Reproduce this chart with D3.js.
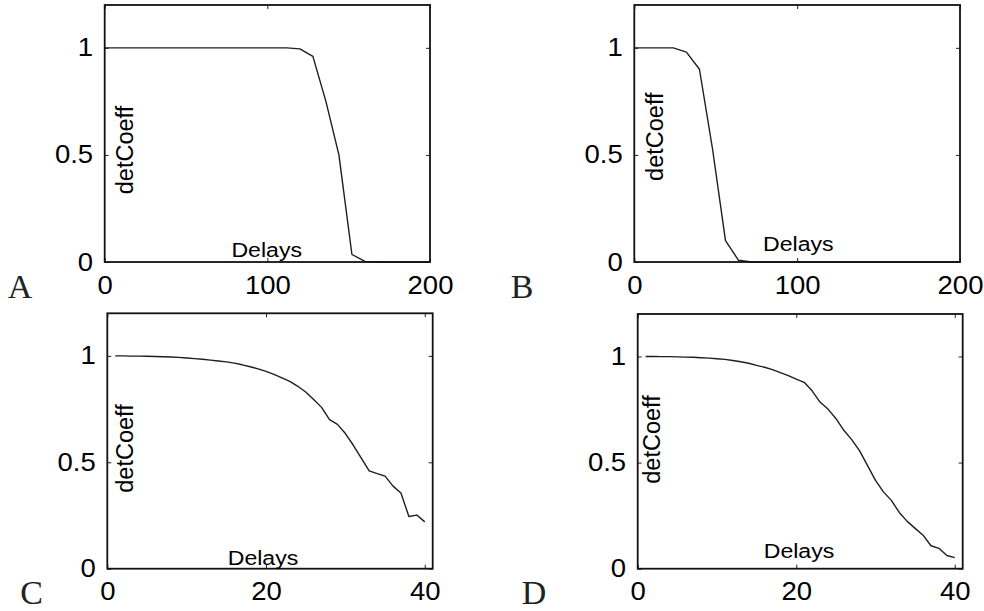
<!DOCTYPE html>
<html><head><meta charset="utf-8">
<script src="https://cdn.jsdelivr.net/npm/d3@7/dist/d3.min.js"></script>
<style>
html,body{margin:0;padding:0;background:#fff;}
svg{display:block;}
</style></head>
<body>
<svg id="chart" width="984" height="611"></svg>
<script>
// ---------- data ----------
const panelLetters = ["A", "B", "C", "D"];
const yTicks = [0, 0.5, 1];
const xTicksAB = [0, 100, 200];
const xTicksCD = [0, 20, 40];
const xLabel = "Delays";
const yLabel = "detCoeff";

const delaysA = [0,8,16,24,32,40,48,56,64,72,80,88,96,104,112,120,128,136,144,152,160,168,176,184,192,200];
const coeffA  = [1,1,1,1,1,1,1,1,1,1,1,1,1,1,1,0.995,0.96,0.75,0.50,0.035,0.003,0,0,0,0,0];

const delaysB = [0,8,16,24,32,40,48,56,64,72,80,88,96,104,112,120,128,136,144,152,160,168,176,184,192,200];
const coeffB  = [1,1,1,1,0.98,0.9,0.53,0.1,0.008,0,0,0,0,0,0,0,0,0,0,0,0,0,0,0,0,0];

const delaysC = [1,2,3,4,5,6,7,8,9,10,11,12,13,14,15,16,17,18,19,20,21,22,23,24,25,26,27,28,29,30,31,32,33,34,35,36,37,38,39,40];
const coeffC  = [1.000,1.000,0.999,0.999,0.998,0.997,0.996,0.995,0.993,0.990,0.987,0.984,0.980,0.976,0.972,0.966,0.958,0.949,0.939,0.927,
                 0.913,0.897,0.880,0.857,0.830,0.795,0.758,0.700,0.678,0.635,0.580,0.520,0.460,0.447,0.435,0.388,0.356,0.245,0.252,0.220];

const delaysD = [1,2,3,4,5,6,7,8,9,10,11,12,13,14,15,16,17,18,19,20,21,22,23,24,25,26,27,28,29,30,31,32,33,34,35,36,37,38,39,40];
const coeffD  = [1.000,1.000,0.999,0.999,0.998,0.997,0.996,0.994,0.992,0.989,0.986,0.981,0.975,0.968,0.958,0.949,0.938,0.924,0.910,0.893,
                 0.878,0.838,0.785,0.752,0.708,0.652,0.608,0.555,0.486,0.416,0.362,0.322,0.265,0.223,0.190,0.158,0.108,0.096,0.062,0.052];

// ---------- layout ----------
const panels = [
  {letter: panelLetters[0], xs: delaysA, ys: coeffA, xDom: [0,200], xTicks: xTicksAB,
   l: 104.7, r: 430, t: 5, b: 262, letterX: 20, letterY: 298, dlX: 266.7, dlY: 257.3, dcX: 133.3, dcY: 150},
  {letter: panelLetters[1], xs: delaysB, ys: coeffB, xDom: [0,200], xTicks: xTicksAB,
   l: 634.3, r: 960, t: 5, b: 262, letterX: 522, letterY: 298, dlX: 798.3, dlY: 250.7, dcX: 663, dcY: 136.7},
  {letter: panelLetters[2], xs: delaysC, ys: coeffC, xDom: [0,41], xTicks: xTicksCD,
   l: 107.3, r: 432.7, t: 313.3, b: 568.7, letterX: 31.5, letterY: 604, dlX: 263, dlY: 565, dcX: 133, dcY: 448.5},
  {letter: panelLetters[3], xs: delaysD, ys: coeffD, xDom: [0,41], xTicks: xTicksCD,
   l: 637.7, r: 962.7, t: 314, b: 568.7, letterX: 534, letterY: 604, dlX: 799, dlY: 557.7, dcX: 660, dcY: 439.5}
];

const svg = d3.select("#chart");
const sansFont = "'Liberation Sans', Arial, Helvetica, sans-serif";
const TICK = 4;

panels.forEach(p => {
  const x = d3.scaleLinear().domain(p.xDom).range([p.l, p.r]);
  const y = d3.scaleLinear().domain([0, 1.2]).range([p.b, p.t]);
  const g = svg.append("g");

  // bottom axis (labels outside, ticks inside)
  const ax = g.append("g").attr("transform", `translate(0,${p.b})`)
    .call(d3.axisBottom(x).tickValues(p.xTicks).tickFormat(d3.format("d")).tickSize(-TICK).tickPadding(14));
  const ay = g.append("g").attr("transform", `translate(${p.l},0)`)
    .call(d3.axisLeft(y).tickValues(yTicks).tickFormat(d => d === 0.5 ? "0.5" : String(d)).tickSize(-TICK).tickPadding(10.5));
  // top & right ticks
  const at = g.append("g").attr("transform", `translate(0,${p.t})`)
    .call(d3.axisTop(x).tickValues(p.xTicks).tickFormat("").tickSize(-TICK));
  const ar = g.append("g").attr("transform", `translate(${p.r},0)`)
    .call(d3.axisRight(y).tickValues(yTicks).tickFormat("").tickSize(-TICK));

  [ax, ay, at, ar].forEach(a => {
    a.select(".domain").remove();
    a.selectAll("line").attr("stroke", "#222").attr("stroke-width", 1);
    a.selectAll("text").attr("font-family", sansFont).attr("font-size", 25).attr("fill", "#000")
      .attr("transform", "scale(1.1,1)");
  });

  // data line
  const line = d3.line().x((d, i) => x(p.xs[i])).y(d => y(d));
  g.append("path").datum(p.ys).attr("d", line)
    .attr("fill", "none").attr("stroke", "#1e1e1e").attr("stroke-width", 1.4).attr("stroke-linejoin", "round");

  // frame
  g.append("rect").attr("x", p.l).attr("y", p.t).attr("width", p.r - p.l).attr("height", p.b - p.t)
    .attr("fill", "none").attr("stroke", "#111").attr("stroke-width", 1.8);

  // axis labels
  g.append("text").attr("transform", `translate(${p.dlX},${p.dlY}) scale(1.1,1)`)
    .attr("text-anchor", "middle").attr("font-family", sansFont).attr("font-size", 21).attr("fill", "#000")
    .text(xLabel);
  g.append("text").attr("transform", `translate(${p.dcX},${p.dcY}) rotate(-90)`)
    .attr("text-anchor", "middle").attr("font-family", sansFont).attr("font-size", 23.5).attr("fill", "#000")
    .text(yLabel);

  // panel letter
  g.append("text").attr("transform", `translate(${p.letterX},${p.letterY})`)
    .attr("text-anchor", "middle").attr("font-family", "'Liberation Serif', 'Times New Roman', serif")
    .attr("font-size", 34).attr("fill", "#222").text(p.letter);
});
</script>
</body></html>
